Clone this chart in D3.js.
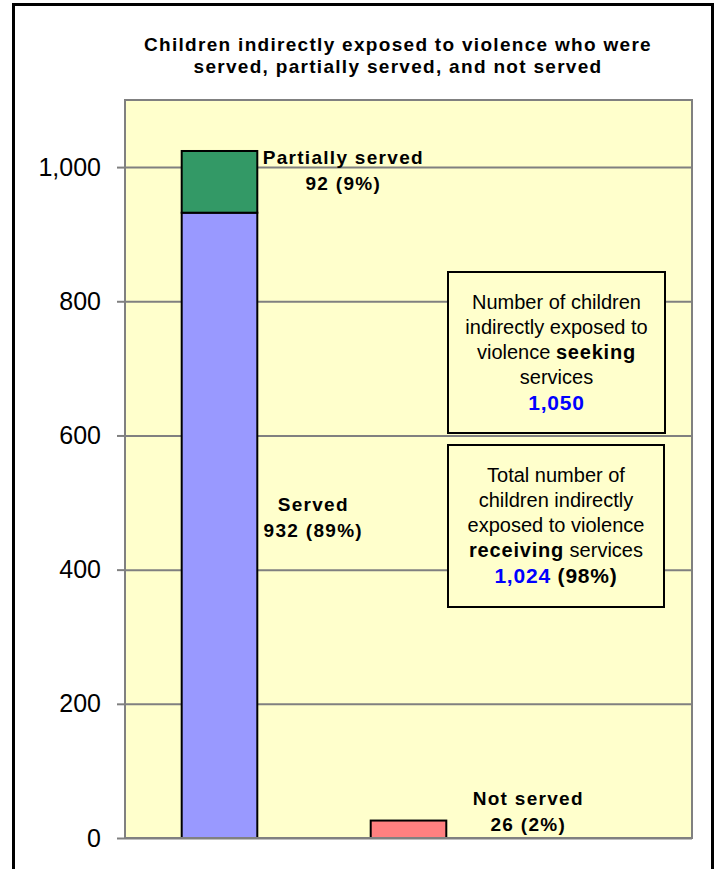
<!DOCTYPE html>
<html>
<head>
<meta charset="utf-8">
<script src="https://cdn.jsdelivr.net/npm/d3@7"></script>
<style>
  html, body { margin: 0; padding: 0; background: #fff; }
  svg { display: block; font-family: "Liberation Sans", Arial, sans-serif; }
</style>
</head>
<body>
<svg id="chart" width="720" height="869"></svg>
<script>
(function () {
  // ==================
  // Data
  // ==================
  const categories = ['Served', 'Not served', ''];
  const seriesNames = ['Served', 'Partially served', 'Not served'];
  const servedValues = [932, 0, 0];
  const partialValues = [92, 0, 0];
  const notServedValues = [0, 26, 0];
  const seriesColors = ['#9999ff', '#339966', '#ff8080'];
  const yTicks = [0, 200, 400, 600, 800, 1000];
  const Y_MAX = 1100;

  const titleLines = [
    'Children indirectly exposed to violence who were',
    'served, partially served, and not served'
  ];
  const barLabels = [
    { name: 'Partially served', text: '92 (9%)' },
    { name: 'Served', text: '932 (89%)' },
    { name: 'Not served', text: '26 (2%)' }
  ];
  // each line is a list of [text, bold, blue]
  const seekingBox = [
    [['Number of children', false, false]],
    [['indirectly exposed to', false, false]],
    [['violence ', false, false], ['seeking', true, false]],
    [['services', false, false]],
    [['1,050', true, true]]
  ];
  const receivingBox = [
    [['Total number of', false, false]],
    [['children indirectly', false, false]],
    [['exposed to violence', false, false]],
    [['receiving', true, false], [' services', false, false]],
    [['1,024', true, true], [' (98%)', true, false]]
  ];

  // ==================
  // Layout
  // ==================
  const PLOT_LEFT = 125;
  const PLOT_RIGHT = 692;
  const PLOT_TOP = 100;
  const PLOT_BOTTOM = 838;
  const PLOT_WIDTH = PLOT_RIGHT - PLOT_LEFT;
  const svg = d3.select('#chart');

  const xScale = d3.scaleBand()
    .domain(categories)
    .range([PLOT_LEFT, PLOT_RIGHT]);
  const barWidth = xScale.bandwidth() * 0.4;
  const barX = (c) => xScale(c) + (xScale.bandwidth() - barWidth) / 2;

  const yScale = d3.scaleLinear()
    .domain([0, Y_MAX])
    .range([PLOT_BOTTOM, PLOT_TOP]);

  // outer frame
  svg.append('rect')
    .attr('x', 13.5).attr('y', 4.5)
    .attr('width', 699).attr('height', 900)
    .attr('fill', '#fff').attr('stroke', '#000').attr('stroke-width', 3);

  // title
  svg.append('g').selectAll('text')
    .data(titleLines)
    .join('text')
    .attr('x', 398)
    .attr('y', (d, i) => 51 + i * 22)
    .attr('text-anchor', 'middle')
    .attr('font-size', 19)
    .attr('font-weight', 'bold')
    .attr('letter-spacing', 1.3)
    .text(d => d);

  // plot background
  svg.append('rect')
    .attr('x', PLOT_LEFT).attr('y', PLOT_TOP)
    .attr('width', PLOT_WIDTH).attr('height', PLOT_BOTTOM - PLOT_TOP)
    .attr('fill', '#ffffcc');

  // gridlines
  const gridGroup = svg.append('g')
    .attr('transform', `translate(${PLOT_LEFT}, 0)`)
    .call(d3.axisRight(yScale).tickValues(yTicks).tickFormat('').tickSize(PLOT_WIDTH).tickSizeOuter(0));
  gridGroup.select('.domain').remove();
  gridGroup.selectAll('.tick line')
    .attr('stroke', '#808080').attr('stroke-width', 2);

  // y axis
  const yAxisGroup = svg.append('g')
    .attr('transform', `translate(${PLOT_LEFT}, 0)`)
    .call(d3.axisLeft(yScale)
      .tickValues(yTicks)
      .tickFormat(d3.format(','))
      .tickSize(8)
      .tickSizeOuter(0)
      .tickPadding(16));
  yAxisGroup.select('.domain').remove();
  yAxisGroup.selectAll('.tick line')
    .attr('stroke', '#808080').attr('stroke-width', 2);
  yAxisGroup.selectAll('.tick text')
    .attr('font-size', 25)
    .attr('font-family', '"Liberation Sans", Arial, sans-serif')
    .attr('fill', '#000');

  // stacked bars
  const rows = categories.map((c, i) => ({
    category: c,
    'Served': servedValues[i],
    'Partially served': partialValues[i],
    'Not served': notServedValues[i]
  }));
  const stacked = d3.stack().keys(seriesNames)(rows);

  const barGroup = svg.append('g');
  stacked.forEach((layer, li) => {
    barGroup.selectAll(null)
      .data(layer.filter(d => d[1] - d[0] > 0))
      .join('rect')
      .attr('x', d => barX(d.data.category))
      .attr('y', d => yScale(d[1]))
      .attr('width', barWidth)
      .attr('height', d => yScale(d[0]) - yScale(d[1]))
      .attr('fill', seriesColors[li])
      .attr('stroke', '#000')
      .attr('stroke-width', 2);
  });

  // annotation boxes
  const drawBox = (lines, x, y, w, h, firstLineY) => {
    const g = svg.append('g');
    g.append('rect')
      .attr('x', x).attr('y', y).attr('width', w).attr('height', h)
      .attr('fill', '#ffffcc').attr('stroke', '#000').attr('stroke-width', 2);
    lines.forEach((parts, i) => {
      const t = g.append('text')
        .attr('x', x + w / 2)
        .attr('y', firstLineY + i * 25)
        .attr('text-anchor', 'middle')
        .attr('dominant-baseline', 'central')
        .attr('font-size', 20);
      parts.forEach(([str, bold, blue]) => {
        t.append('tspan')
          .attr('font-weight', bold ? 'bold' : 'normal')
          .attr('font-size', blue || (bold && i === lines.length - 1) ? 21 : 20)
          .attr('letter-spacing', bold ? 0.8 : 0)
          .attr('fill', blue ? '#0000ff' : '#000')
          .text(str);
      });
    });
  };
  drawBox(seekingBox, 448, 272, 217, 161, 302);
  drawBox(receivingBox, 448, 445, 216, 162, 475);

  // plot border
  svg.append('rect')
    .attr('x', PLOT_LEFT).attr('y', PLOT_TOP)
    .attr('width', PLOT_WIDTH).attr('height', PLOT_BOTTOM - PLOT_TOP)
    .attr('fill', 'none').attr('stroke', '#808080').attr('stroke-width', 2);

  // bar labels
  const servedTop = servedValues[0] + partialValues[0];
  const labelPos = {
    'Partially served': { x: barX('Served') + barWidth + 86, y: yScale(servedTop) + 7 },
    'Served': { x: barX('Served') + barWidth + 56, y: yScale(servedValues[0] / 2) - 21 },
    'Not served': { x: barX('Not served') + barWidth + 82, y: yScale(notServedValues[1]) - 22 }
  };
  const labelGroup = svg.append('g');
  barLabels.forEach(lbl => {
    const p = labelPos[lbl.name];
    [lbl.name, lbl.text].forEach((str, i) => {
      labelGroup.append('text')
        .attr('x', p.x)
        .attr('y', p.y + i * 26)
        .attr('text-anchor', 'middle')
        .attr('dominant-baseline', 'central')
        .attr('font-size', 19)
        .attr('font-weight', 'bold')
        .attr('letter-spacing', 1.3)
        .text(str);
    });
  });
})();
</script>
</body>
</html>
